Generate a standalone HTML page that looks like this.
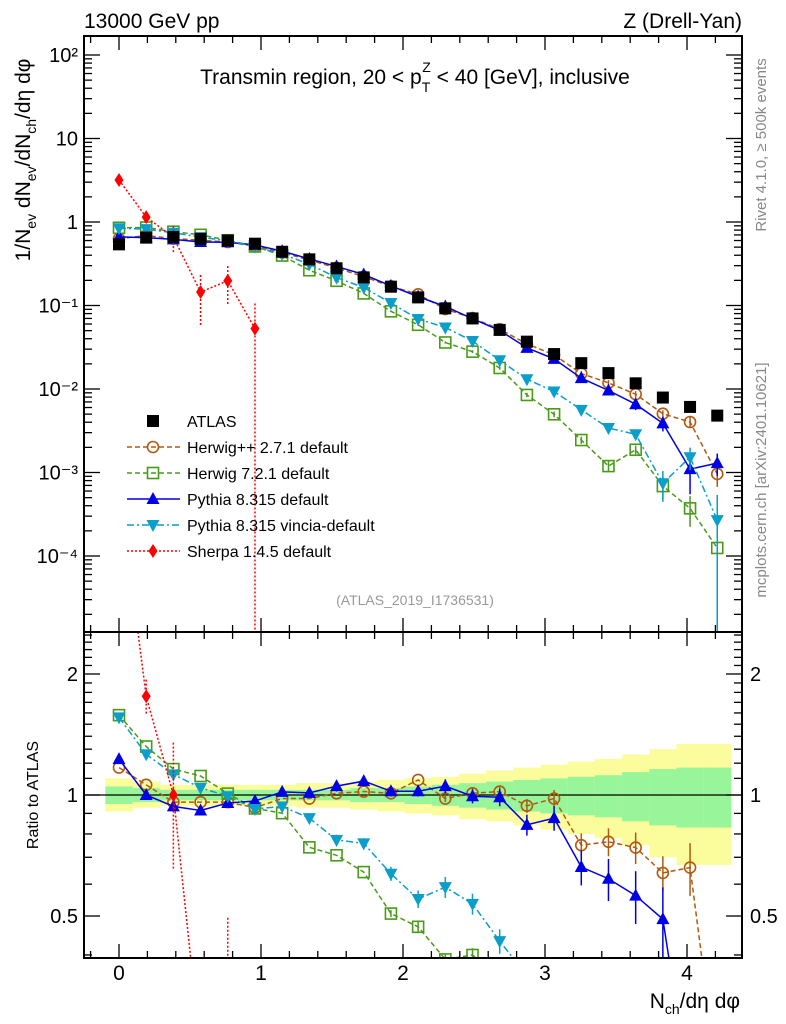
<!DOCTYPE html>
<html><head><meta charset="utf-8"><style>
html,body{margin:0;padding:0;background:#fff;overflow:hidden;width:786px;height:1024px;}
svg{display:block;font-family:"Liberation Sans",sans-serif;}
</style></head><body>
<svg id="chart" width="786" height="1024" viewBox="0 0 786 1024" xmlns="http://www.w3.org/2000/svg">
<text x="84" y="28" font-size="21">13000 GeV pp</text>
<text x="742" y="28" font-size="21" text-anchor="end">Z (Drell-Yan)</text>
<text x="415" y="84" font-size="21" text-anchor="middle">Transmin region, 20 &lt; p<tspan dy="8" font-size="14">T</tspan><tspan dx="-8" dy="-20" font-size="14">Z</tspan><tspan dy="12"> &lt; 40 [GeV], inclusive</tspan></text>
<text x="415" y="605" font-size="14" fill="#999" text-anchor="middle">(ATLAS_2019_I1736531)</text>
<text transform="translate(766,145) rotate(-90)" font-size="15" fill="#888" text-anchor="middle">Rivet 4.1.0, ≥ 500k events</text>
<text transform="translate(766,480) rotate(-90)" font-size="15" fill="#888" text-anchor="middle">mcplots.cern.ch [arXiv:2401.10621]</text>
<text transform="translate(30,160) rotate(-90)" font-size="21" text-anchor="middle">1/N<tspan font-size="14" dy="6">ev</tspan><tspan dy="-6"> dN</tspan><tspan font-size="14" dy="6">ev</tspan><tspan dy="-6">/dN</tspan><tspan font-size="14" dy="6">ch</tspan><tspan dy="-6">/dη dφ</tspan></text>
<text transform="translate(38,795) rotate(-90)" font-size="16" text-anchor="middle">Ratio to ATLAS</text>
<text x="740" y="1008" font-size="21" text-anchor="end">N<tspan font-size="14" dy="6">ch</tspan><tspan dy="-6">/dη dφ</tspan></text>
<g id="g"></g>
</svg>
<script>
const atlas=[0.54,0.65,0.66,0.63,0.6,0.55,0.44,0.357,0.279,0.217,0.168,0.125,0.0925,0.070,0.051,0.0369,0.0262,0.0204,0.0155,0.0117,0.0079,0.0061,0.0048];
const herwigppRatio=[1.17,1.06,0.96,0.96,0.96,0.93,0.98,0.98,1.01,1.02,1.01,1.09,0.98,1.01,1.02,0.94,0.98,0.75,0.765,0.74,0.64,0.66,0.2];
const herwig7Ratio=[1.58,1.32,1.16,1.115,1.008,0.926,0.901,0.741,0.708,0.643,0.507,0.47,0.39,0.40,0.35,0.23,0.19,0.12,0.077,0.16,0.087,0.061,0.026];
const pythiaRatio=[1.228,1.0,0.937,0.915,0.955,0.966,1.018,1.012,1.052,1.083,1.022,1.022,1.052,0.993,0.987,0.843,0.876,0.662,0.619,0.562,0.491,0.18,0.27];
const vinciaRatio=[1.56,1.263,1.125,1.042,0.993,0.923,0.937,0.876,0.773,0.758,0.637,0.551,0.590,0.536,0.433,0.355,0.356,0.276,0.22,0.245,0.094,0.25,0.056];
const sherpaRatio=[5.9,1.76,1.0,0.23,0.33,0.096];
const herwigppErr=[0,0,0,0,0,0,0,0,0,0,0,0,0.02,0.03,0.03,0.04,0.05,0.07,0.08,0.09,0.1,0.15,0.3];
const herwig7Err=[0,0,0,0,0,0,0,0,0,0,0.02,0.03,0.03,0.04,0.05,0.06,0.08,0.1,0.15,0.12,0.3,0.4,0.6];
const pythiaErr=[0,0,0,0,0,0,0.02,0.02,0.03,0.03,0.03,0.03,0.04,0.04,0.05,0.06,0.07,0.1,0.12,0.15,0.2,0.5,0.3];
const vinciaErr=[0,0,0,0,0,0,0,0.02,0.03,0.03,0.04,0.05,0.06,0.06,0.07,0.08,0.1,0.12,0.15,0.14,0.4,0.3,1.0];
const sherpaErr=[0.05,0.1,0.35,0.6,0.5,1.0];
const yellowUp=[1.10,1.08,1.06,1.06,1.06,1.06,1.06,1.07,1.07,1.08,1.09,1.10,1.11,1.13,1.15,1.17,1.19,1.21,1.23,1.26,1.30,1.34,1.34];
const yellowDn=[0.91,0.93,0.94,0.94,0.94,0.94,0.94,0.93,0.93,0.92,0.91,0.90,0.89,0.87,0.86,0.84,0.82,0.80,0.78,0.75,0.70,0.67,0.67];
const greenUp=[1.05,1.04,1.03,1.03,1.03,1.03,1.03,1.03,1.03,1.04,1.04,1.05,1.06,1.07,1.08,1.09,1.10,1.11,1.12,1.14,1.16,1.17,1.17];
const greenDn=[0.95,0.96,0.97,0.97,0.97,0.97,0.97,0.97,0.97,0.96,0.96,0.95,0.94,0.93,0.92,0.91,0.90,0.89,0.88,0.86,0.84,0.83,0.83];
const binWidth=0.1915;
const xTicks=[0,1,2,3,4];
const mainTickLabels=["10²","10","1","10⁻¹","10⁻²","10⁻³","10⁻⁴"];
const ratioTicks=[0.5,1,2];

const L=84,R=742,MT=36,MB=632,RT=632,RB=958;
const X=v=>119+142*v;
const Ym=v=>222-83.5*Math.log10(v);
const Yr=v=>795-402*Math.log10(v);
const NS="http://www.w3.org/2000/svg";
const g=document.getElementById('g');
function mk(tag,at,parent){const e=document.createElementNS(NS,tag);for(const k in at)e.setAttribute(k,at[k]);(parent||g).appendChild(e);return e;}
const clampM=y=>Math.max(MT,Math.min(MB,y));
const clampR=y=>Math.max(RT,Math.min(RB,y));
const xc=i=>i*binWidth;

const band=mk('g',{});


atlas.forEach((a,i)=>{
  const x0=X(xc(i)-binWidth/2),x1=X(xc(i)+binWidth/2);
  const ry=mk('rect',{x:x0,y:Yr(yellowUp[i]),width:x1-x0+0.5,height:Yr(yellowDn[i])-Yr(yellowUp[i]),fill:'#fbfc9c'},band);
  
  
  const rg=mk('rect',{x:x0,y:Yr(greenUp[i]),width:x1-x0+0.5,height:Yr(greenDn[i])-Yr(greenUp[i]),fill:'#99f599'},band);
  
  
});
const one=mk('line',{x1:L,x2:R,y1:Yr(1),y2:Yr(1),stroke:'#000','stroke-width':1.3});



const series=[
 {name:'herwigpp',ratio:herwigppRatio,err:herwigppErr,color:'#b2590f',dash:'5,3',marker:'circle'},
 {name:'herwig7',ratio:herwig7Ratio,err:herwig7Err,color:'#4a9a1a',dash:'5,3',marker:'square'},
 {name:'pythia',ratio:pythiaRatio,err:pythiaErr,color:'#0000e6',dash:'',marker:'tri'},
 {name:'vincia',ratio:vinciaRatio,err:vinciaErr,color:'#0a9ec9',dash:'7,3,2,3',marker:'tridown'},
 {name:'sherpa',ratio:sherpaRatio,err:sherpaErr,color:'#ff0000',dash:'2,2',marker:'diamond'}
];
function marker(type,x,y,c,parent,nm){
  let e;
  if(type==='circle')e=mk('circle',{cx:x,cy:y,r:5.5,fill:'none',stroke:c,'stroke-width':1.6},parent);
  else if(type==='square')e=mk('rect',{x:x-5.5,y:y-5.5,width:11,height:11,fill:'none',stroke:c,'stroke-width':1.6},parent);
  else if(type==='fsquare')e=mk('rect',{x:x-6,y:y-6,width:12,height:12,fill:c},parent);
  else if(type==='tri')e=mk('polygon',{points:`${x},${y-7} ${x-6.5},${y+5} ${x+6.5},${y+5}`,fill:c},parent);
  else if(type==='tridown')e=mk('polygon',{points:`${x},${y+7} ${x-6.5},${y-5} ${x+6.5},${y-5}`,fill:c},parent);
  else e=mk('polygon',{points:`${x},${y-7} ${x-4.5},${y} ${x},${y+7} ${x+4.5},${y}`,fill:c},parent);
  
  
  return e;
}
const clipM=mk('clipPath',{id:'cm'});mk('rect',{x:L,y:MT,width:R-L,height:MB-MT},clipM);
const clipR=mk('clipPath',{id:'cr'});mk('rect',{x:L,y:RT,width:R-L,height:RB-RT},clipR);

series.forEach(s=>{
  const gm=mk('g',{'clip-path':'url(#cm)'});
  
  
  const gr=mk('g',{'clip-path':'url(#cr)'});
  
  
  const vals=s.ratio.map((r,i)=>r*atlas[i]);
  const pm=vals.map((v,i)=>X(xc(i))+','+Ym(v)).join(' ');
  const pr=s.ratio.map((r,i)=>X(xc(i))+','+Yr(r)).join(' ');
  const lm=mk('polyline',{points:pm,fill:'none',stroke:s.color,'stroke-width':1.5,'stroke-dasharray':s.dash},gm);
  
  
  const lr=mk('polyline',{points:pr,fill:'none',stroke:s.color,'stroke-width':1.5,'stroke-dasharray':s.dash},gr);
  
  
  vals.forEach((v,i)=>{
    const e=s.err[i];const x=X(xc(i));
    if(e>0){
      const lo=e>=1?1e-9:v*(1-e);
      const b1=mk('line',{x1:x,x2:x,y1:Ym(v*(1+e)),y2:clampM(Ym(lo)),stroke:s.color,'stroke-width':1.5,'stroke-dasharray':s.dash==='2,2'?'2,2':''},gm);
      
      
      const rl=e>=1?1e-9:s.ratio[i]*(1-e);
      const b2=mk('line',{x1:x,x2:x,y1:Yr(s.ratio[i]*(1+e)),y2:clampR(Yr(rl)),stroke:s.color,'stroke-width':1.5,'stroke-dasharray':s.dash==='2,2'?'2,2':''},gr);
      
      
    }
    marker(s.marker,x,Ym(v),s.color,gm,s.name+'-point');
    marker(s.marker,x,Yr(s.ratio[i]),s.color,gr,s.name+'-ratio-point');
  });
});
const ga=mk('g',{'clip-path':'url(#cm)'});


atlas.forEach((v,i)=>marker('fsquare',X(xc(i)),Ym(v),'#000',ga,'atlas-point'));

[[MT,MB],[RT,RB]].forEach(([t,b],k)=>{
  const f=mk('rect',{x:L,y:t,width:R-L,height:b-t,fill:'none',stroke:'#000','stroke-width':2});
  
  
});
const tk=mk('g',{stroke:'#000','stroke-width':1.3});


for(let v=-0.2;v<=4.4001;v+=0.2){
  const x=X(v);if(x<L||x>R)continue;
  const major=Math.abs(v-Math.round(v))<1e-6;const len=major?14:7;
  [[MT,1],[MB,-1],[RT,1],[RB,-1]].forEach(([y,d])=>mk('line',{x1:x,x2:x,y1:y,y2:y+d*len},tk));
}
xTicks.forEach(v=>{const t=mk('text',{x:X(v),y:980,'font-size':21,'text-anchor':'middle'});t.textContent=v;
  
  });
for(let e=-5;e<=2;e++){for(let m=1;m<10;m++){const v=m*Math.pow(10,e);const y=Ym(v);if(y<MT||y>MB)continue;
  const len=m===1?16:8;mk('line',{x1:L,x2:L+len,y1:y,y2:y},tk);mk('line',{x1:R,x2:R-len,y1:y,y2:y},tk);}}
mainTickLabels.forEach((s,k)=>{const t=mk('text',{x:78,y:Ym(Math.pow(10,2-k))+7,'font-size':20,'text-anchor':'end'});t.textContent=s;
  
  });
for(let v=0.3;v<2.6;v+=0.1){const y=Yr(v);if(y<RT||y>RB)continue;const major=[0.5,1,2].some(a=>Math.abs(a-v)<1e-6);const len=major?16:8;
  mk('line',{x1:L,x2:L+len,y1:y,y2:y},tk);mk('line',{x1:R,x2:R-len,y1:y,y2:y},tk);}
ratioTicks.forEach(v=>{[[78,'end'],[750,'start']].forEach(([x,a])=>{const t=mk('text',{x:x,y:Yr(v)+7,'font-size':20,'text-anchor':a});t.textContent=v;
  
  });});

const legend=[['ATLAS','#000','fsquare',''],['Herwig++ 2.7.1 default','#b2590f','circle','5,3'],['Herwig 7.2.1 default','#4a9a1a','square','5,3'],['Pythia 8.315 default','#0000e6','tri',''],['Pythia 8.315 vincia-default','#0a9ec9','tridown','7,3,2,3'],['Sherpa 1.4.5 default','#ff0000','diamond','2,2']];
legend.forEach((l,k)=>{
  const y=421+k*26;
  const lg=mk('g',{});
  
  
  if(k>0)mk('line',{x1:127,x2:180,y1:y,y2:y,stroke:l[1],'stroke-width':1.5,'stroke-dasharray':l[3]},lg);
  marker(l[2],153,y,l[1],lg,'legend-marker');
  const t=mk('text',{x:187,y:y+6,'font-size':16},lg);t.textContent=l[0];
});
</script>
</body></html>
